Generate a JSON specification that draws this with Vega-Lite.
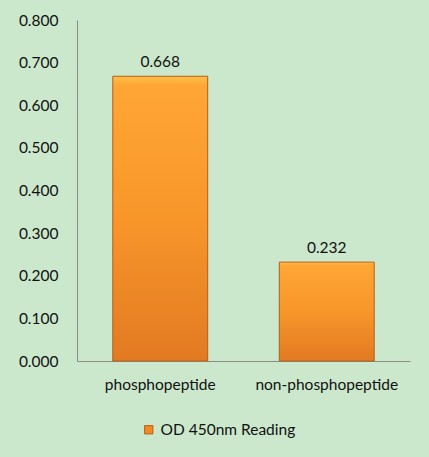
{
  "$schema": "https://vega.github.io/schema/vega-lite/v6.json",
  "width": 333,
  "height": 341,
  "autosize": "none",
  "padding": {"left": 77, "top": 20, "right": 19, "bottom": 96},
  "background": "#CCE8CC",
  "config": {
    "view": {"stroke": null},
    "font": "Lato",
    "axis": {"labelFont": "Lato", "labelFontSize": 15.5, "labelColor": "#111", "domainColor": "#8A8A8A", "ticks": false, "grid": false, "title": null, "labelOverlap": false}
  },
  "data": {
    "values": [
      {"sample": "phosphopeptide", "od": 0.668, "series": "OD 450nm Reading"},
      {"sample": "non-phosphopeptide", "od": 0.232, "series": "OD 450nm Reading"}
    ]
  },
  "encoding": {
    "x": {
      "field": "sample", "type": "nominal", "sort": null,
      "scale": {"paddingInner": 0.43, "paddingOuter": 0.215},
      "axis": {"labelAngle": 0, "labelPadding": 16}
    },
    "y": {
      "field": "od", "type": "quantitative",
      "scale": {"domain": [0, 0.8]},
      "axis": {"format": ".3f", "values": [0, 0.1, 0.2, 0.3, 0.4, 0.5, 0.6, 0.7, 0.8], "labelPadding": 19}
    }
  },
  "layer": [
    {
      "mark": {"type": "bar"},
      "encoding": {
        "color": {
          "field": "series", "type": "nominal",
          "scale": {"range": ["#F08A22"]},
          "legend": {
            "title": null, "orient": "none", "legendX": 64, "legendY": 402,
            "symbolType": "square", "symbolSize": 70, "symbolStrokeColor": "#B8601A", "symbolStrokeWidth": 1,
            "labelFont": "Lato", "labelFontSize": 15.5, "labelColor": "#111", "labelOffset": 4
          }
        }
      }
    },
    {
      "mark": {
        "type": "bar",
        "stroke": "#B5621C",
        "strokeWidth": 1,
        "color": {
          "gradient": "linear", "x1": 0, "y1": 0, "x2": 0, "y2": 1,
          "stops": [
            {"offset": 0, "color": "#FFC04A"},
            {"offset": 0.03, "color": "#FFA636"},
            {"offset": 0.5, "color": "#F8962A"},
            {"offset": 1, "color": "#E27A22"}
          ]
        }
      }
    },
    {
      "mark": {"type": "text", "dy": -14, "fontSize": 15.5, "color": "#111"},
      "encoding": {"text": {"field": "od", "type": "quantitative", "format": ".3f"}}
    }
  ]
}
